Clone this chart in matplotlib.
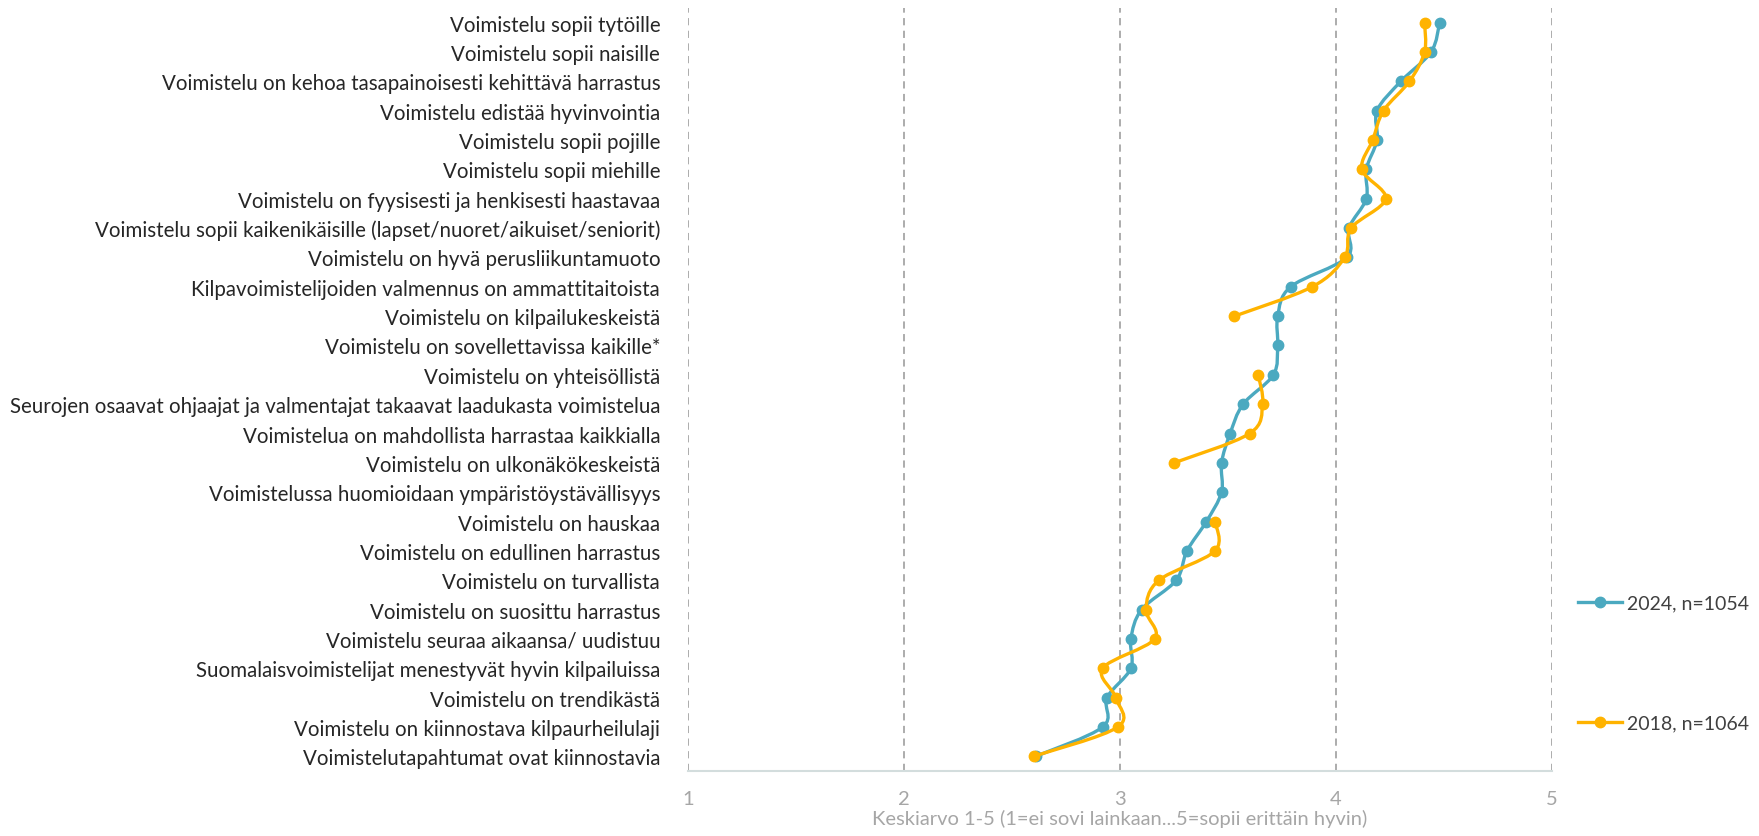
import numpy as np
from matplotlib import pyplot as plt
from matplotlib.path import Path
from matplotlib.patches import PathPatch
from matplotlib.lines import Line2D

plt.rcParams['font.family'] = ['Lato', 'DejaVu Sans']

# väittämät ylhäältä alas
labels = [
    "Voimistelu sopii tytöille",
    "Voimistelu sopii naisille",
    "Voimistelu on kehoa tasapainoisesti kehittävä harrastus",
    "Voimistelu edistää hyvinvointia",
    "Voimistelu sopii pojille",
    "Voimistelu sopii miehille",
    "Voimistelu on fyysisesti ja henkisesti haastavaa",
    "Voimistelu sopii kaikenikäisille (lapset/nuoret/aikuiset/seniorit)",
    "Voimistelu on hyvä perusliikuntamuoto",
    "Kilpavoimistelijoiden valmennus on ammattitaitoista",
    "Voimistelu on kilpailukeskeistä",
    "Voimistelu on sovellettavissa kaikille*",
    "Voimistelu on yhteisöllistä",
    "Seurojen osaavat ohjaajat ja valmentajat takaavat laadukasta voimistelua",
    "Voimistelua on mahdollista harrastaa kaikkialla",
    "Voimistelu on ulkonäkökeskeistä",
    "Voimistelussa huomioidaan ympäristöystävällisyys",
    "Voimistelu on hauskaa",
    "Voimistelu on edullinen harrastus",
    "Voimistelu on turvallista",
    "Voimistelu on suosittu harrastus",
    "Voimistelu seuraa aikaansa/ uudistuu",
    "Suomalaisvoimistelijat menestyvät hyvin kilpailuissa",
    "Voimistelu on trendikästä",
    "Voimistelu on kiinnostava kilpaurheilulaji",
    "Voimistelutapahtumat ovat kiinnostavia",
]

v2024 = [4.48, 4.44, 4.30, 4.19, 4.19, 4.14, 4.14, 4.06, 4.05, 3.79, 3.73, 3.73, 3.71,
         3.57, 3.51, 3.47, 3.47, 3.40, 3.31, 3.26, 3.10, 3.05, 3.05, 2.94, 2.92, 2.61]
v2018 = [4.41, 4.41, 4.34, 4.22, 4.17, 4.12, 4.23, 4.07, 4.04, 3.89, 3.53, np.nan, 3.64,
         3.66, 3.60, 3.25, np.nan, 3.44, 3.44, 3.18, 3.12, 3.16, 2.92, 2.98, 2.99, 2.60]

series = [("2024, n=1054", v2024, "#4BA9C0"), ("2018, n=1064", v2018, "#FFB300")]


def smooth_path(xs, ys):
    # Excel-tyylinen pehmennetty viiva (Catmull-Rom -> Bezier)
    pts = np.column_stack([xs, ys])
    n = len(pts)
    verts = [pts[0]]
    codes = [Path.MOVETO]
    for i in range(n - 1):
        p0 = pts[max(i - 1, 0)]
        p1 = pts[i]
        p2 = pts[i + 1]
        p3 = pts[min(i + 2, n - 1)]
        c1 = p1 + (p2 - p0) / 6
        c2 = p2 - (p3 - p1) / 6
        verts += [c1, c2, p2]
        codes += [Path.CURVE4] * 3
    return Path(verts, codes)


fig = plt.figure(figsize=(17.59, 8.37), dpi=100)
ax = fig.add_axes([688 / 1759, 65 / 837, 864 / 1759, 763 / 837])

rows = np.arange(len(labels))
handles = []
for i, (name, vals, col) in enumerate(series):
    vals = np.array(vals, dtype=float)
    ok = ~np.isnan(vals)
    # katkaistaan viiva puuttuvien arvojen kohdalla
    start = None
    for j in range(len(vals) + 1):
        if j < len(vals) and ok[j]:
            if start is None:
                start = j
        else:
            if start is not None and j - start > 1:
                p = smooth_path(vals[start:j], rows[start:j])
                ax.add_patch(PathPatch(p, fill=False, edgecolor=col, lw=2.4,
                                       zorder=3 + i, capstyle='round', joinstyle='round'))
            start = None
    ax.plot(vals, rows, 'o', color=col, markersize=7.5, zorder=3 + i)
    handles.append(Line2D([0], [0], color=col, lw=2.4, marker='o', markersize=7.5))

ax.set_xlim(1, 5)
ax.set_ylim(len(labels) - 0.5, -0.5)
ax.set_yticks(rows)
ax.set_yticklabels(labels, fontsize=14.8, color="#262626")
ax.set_xticks([1, 2, 3, 4, 5])
ax.tick_params(axis='x', labelsize=14.5, colors="#A6A6A6", length=0, pad=14)
ax.tick_params(axis='y', length=0, pad=20)
ax.set_xlabel("Keskiarvo 1-5 (1=ei sovi lainkaan...5=sopii erittäin hyvin)",
              fontsize=14.5, color="#A6A6A6", labelpad=1)
ax.grid(axis='x', color="#A6A6A6", linestyle=(0, (4, 3)), lw=1.3)
for s in ['top', 'right', 'left']:
    ax.spines[s].set_visible(False)
ax.spines['bottom'].set_color("#D3DDDD")
ax.spines['bottom'].set_linewidth(1.5)

fig.legend(handles, [s[0] for s in series], loc='upper left',
           bbox_to_anchor=(1560 / 1759, 1 - 578 / 837), frameon=False,
           fontsize=14, labelcolor="#404040", handlelength=2.3,
           handletextpad=0.25, labelspacing=5.3)

plt.savefig("out.png", dpi=100)
